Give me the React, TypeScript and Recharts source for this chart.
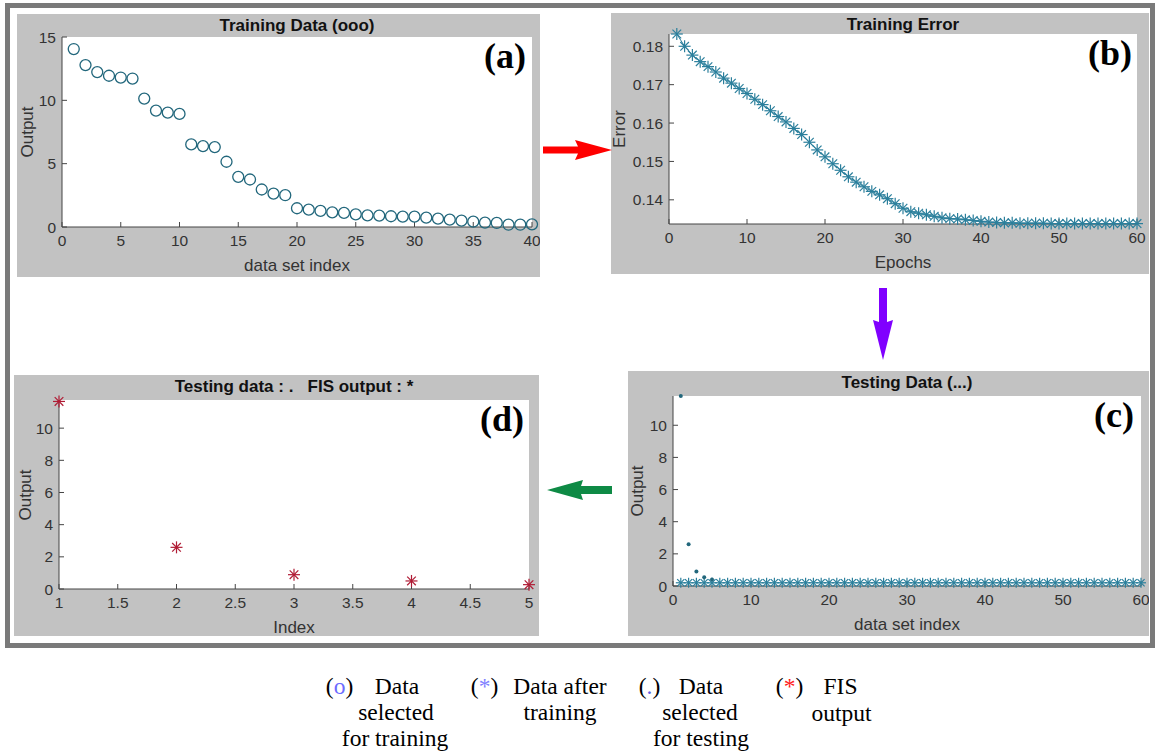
import React from "react";
import { ScatterChart, Scatter, XAxis, YAxis, CartesianGrid } from "recharts";

// (a) training data, index 1..40
const trainingOutput = [
  14.05, 12.78, 12.23, 11.94, 11.8, 11.72, 10.14, 9.19, 9.03, 8.93,
  6.52, 6.39, 6.31, 5.15, 3.96, 3.75, 2.96, 2.64, 2.51, 1.48,
  1.37, 1.27, 1.16, 1.11, 1.0, 0.92, 0.9, 0.85, 0.82, 0.82,
  0.74, 0.66, 0.58, 0.5, 0.42, 0.34, 0.32, 0.18, 0.18, 0.21,
];

// (b) training error per epoch, 1..60
const trainingError = [
  0.1832, 0.18, 0.1777, 0.176, 0.1747, 0.1733, 0.1717, 0.1704, 0.169, 0.1677,
  0.1662, 0.1648, 0.1632, 0.1617, 0.1603, 0.1586, 0.157, 0.155, 0.153, 0.1512,
  0.1494, 0.1477, 0.146, 0.1446, 0.1434, 0.1422, 0.1413, 0.1403, 0.139, 0.1378,
  0.1369, 0.1365, 0.1361, 0.1357, 0.1353, 0.1351, 0.135, 0.1348, 0.1346, 0.1344,
  0.1342, 0.1341, 0.134, 0.134, 0.1339, 0.1339, 0.1339, 0.1339, 0.1338, 0.1338,
  0.1338, 0.1338, 0.1338, 0.1338, 0.1338, 0.1338, 0.1338, 0.1338, 0.1338, 0.1338,
];

// (c) testing data (dots) and data after training (stars)
const testingData = [11.82, 2.59, 0.9, 0.55, 0.4];
const afterTraining = [
  0.2, 0.2, 0.2, 0.2, 0.2, 0.2, 0.2, 0.2, 0.2, 0.2,
  0.2, 0.2, 0.2, 0.2, 0.2, 0.2, 0.2, 0.2, 0.2, 0.2,
  0.2, 0.2, 0.2, 0.2, 0.2, 0.2, 0.2, 0.2, 0.2, 0.2,
  0.2, 0.2, 0.2, 0.2, 0.2, 0.2, 0.2, 0.2, 0.2, 0.2,
  0.2, 0.2, 0.2, 0.2, 0.2, 0.2, 0.2, 0.2, 0.2, 0.2,
  0.2, 0.2, 0.2, 0.2, 0.2, 0.2, 0.2, 0.2, 0.2, 0.2,
];

// (d) FIS output on the test points
const fisOutput = [11.66, 2.59, 0.89, 0.5, 0.27];

const ticksA_x = [0, 5, 10, 15, 20, 25, 30, 35, 40];
const ticksA_y = [0, 5, 10, 15];
const ticksB_x = [0, 10, 20, 30, 40, 50, 60];
const ticksB_y = [0.14, 0.15, 0.16, 0.17, 0.18];
const ticksC_x = [0, 10, 20, 30, 40, 50, 60];
const ticksC_y = [0, 2, 4, 6, 8, 10];
const ticksD_x = [1, 1.5, 2, 2.5, 3, 3.5, 4, 4.5, 5];
const ticksD_y = [0, 2, 4, 6, 8, 10];

const toPoints = (vals: number[]) => vals.map((y, i) => ({ x: i + 1, y }));

const SANS = '"Liberation Sans", Arial, sans-serif';
const SERIF = '"Liberation Serif", "Times New Roman", serif';
const PANEL_BG = "#c2c2c2";
const AXIS = "#454545";
const TEAL = "#22677c";
const BLUE = "#2b7f9c";
const RED = "#b01c35";

const circleShape = (p: any) => (
  <circle cx={p.cx} cy={p.cy} r={5.5} fill="none" stroke={TEAL} strokeWidth={1.3} />
);

const dotShape = (p: any) => <circle cx={p.cx} cy={p.cy} r={2} fill={TEAL} />;

const starShape = (color: string, r: number) => (p: any) => {
  const { cx, cy } = p;
  const d = r * 0.72;
  return (
    <g stroke={color} strokeWidth={1.2}>
      <line x1={cx - r} y1={cy} x2={cx + r} y2={cy} />
      <line x1={cx} y1={cy - r} x2={cx} y2={cy + r} />
      <line x1={cx - d} y1={cy - d} x2={cx + d} y2={cy + d} />
      <line x1={cx - d} y1={cy + d} x2={cx + d} y2={cy - d} />
    </g>
  );
};

type Rect = { left: number; top: number; right: number; bottom: number };

function Panel(props: {
  box: Rect;
  plot: Rect;
  title: string;
  xLabel: string;
  yLabel: string;
  yLabelX: number;
  tag: string;
  xDomain: [number, number];
  xTicks: number[];
  yDomain: [number, number];
  yTicks: number[];
  yFormat?: (v: number) => string;
  children: React.ReactNode;
}) {
  const { box, plot } = props;
  const w = box.right - box.left;
  const h = box.bottom - box.top;
  const cx = (plot.left + plot.right) / 2;
  const tick = { fill: "#333", fontSize: 15.5, fontFamily: SANS };
  const center: React.CSSProperties = {
    position: "absolute",
    transform: "translate(-50%, -50%)",
    whiteSpace: "pre",
    lineHeight: 1,
  };
  return (
    <>
      <div style={{ position: "absolute", left: box.left, top: box.top, background: PANEL_BG }}>
        <ScatterChart
          width={w}
          height={h}
          margin={{ top: plot.top - box.top, right: box.right - plot.right, left: 0, bottom: 0 }}
        >
          <CartesianGrid fill="#fff" horizontal={false} vertical={false} />
          <XAxis
            type="number"
            dataKey="x"
            domain={props.xDomain}
            ticks={props.xTicks}
            interval={0}
            height={box.bottom - plot.bottom}
            tick={tick}
            tickSize={-5}
            tickMargin={13}
            axisLine={{ stroke: AXIS }}
            tickLine={{ stroke: AXIS }}
          />
          <YAxis
            type="number"
            dataKey="y"
            domain={props.yDomain}
            ticks={props.yTicks}
            interval={0}
            width={plot.left - box.left}
            tick={tick}
            tickSize={-5}
            tickMargin={11}
            tickFormatter={props.yFormat}
            axisLine={{ stroke: AXIS }}
            tickLine={{ stroke: AXIS }}
          />
          {props.children}
        </ScatterChart>
      </div>
      <div style={{ ...center, left: cx, top: box.top + 11, fontFamily: SANS, fontWeight: "bold", fontSize: 17, color: "#111" }}>
        {props.title}
      </div>
      <div style={{ ...center, left: cx, top: plot.bottom + 38, fontFamily: SANS, fontSize: 17, color: "#333" }}>
        {props.xLabel}
      </div>
      <div
        style={{
          ...center,
          left: props.yLabelX,
          top: (plot.top + plot.bottom) / 2,
          transform: "translate(-50%, -50%) rotate(-90deg)",
          fontFamily: SANS,
          fontSize: 17,
          color: "#333",
        }}
      >
        {props.yLabel}
      </div>
      <div style={{ ...center, left: plot.right - 27, top: plot.top + 19, fontFamily: SERIF, fontWeight: "bold", fontSize: 36, color: "#000" }}>
        {props.tag}
      </div>
    </>
  );
}

export default function App() {
  const legendText = { fontFamily: SERIF, fontSize: 23.5, fill: "#000", textAnchor: "middle" as const };
  return (
    <div style={{ position: "absolute", left: 0, top: 0, width: 1155, height: 756, background: "#fff", overflow: "hidden" }}>
      <div
        style={{
          position: "absolute",
          left: 5,
          top: 3,
          width: 1150,
          height: 645,
          border: "5px solid #7a7a7a",
          boxSizing: "border-box",
        }}
      />

      <Panel
        box={{ left: 17, top: 14, right: 540, bottom: 277 }}
        plot={{ left: 62, top: 37, right: 532, bottom: 227 }}
        title="Training Data (ooo)"
        xLabel="data set index"
        yLabel="Output"
        yLabelX={27}
        tag="(a)"
        xDomain={[0, 40]}
        xTicks={ticksA_x}
        yDomain={[0, 15]}
        yTicks={ticksA_y}
      >
        <Scatter data={toPoints(trainingOutput)} shape={circleShape} isAnimationActive={false} />
      </Panel>

      <Panel
        box={{ left: 611, top: 13, right: 1149, bottom: 274 }}
        plot={{ left: 669, top: 34, right: 1137, bottom: 224 }}
        title="Training Error"
        xLabel="Epochs"
        yLabel="Error"
        yLabelX={619}
        tag="(b)"
        xDomain={[0, 60]}
        xTicks={ticksB_x}
        yDomain={[0.1337, 0.1832]}
        yTicks={ticksB_y}
        yFormat={(v) => v.toFixed(2)}
      >
        <Scatter
          data={toPoints(trainingError)}
          shape={starShape(BLUE, 6)}
          line={{ stroke: BLUE, strokeWidth: 1 }}
          isAnimationActive={false}
        />
      </Panel>

      <Panel
        box={{ left: 628, top: 371, right: 1149, bottom: 636 }}
        plot={{ left: 673, top: 396, right: 1141, bottom: 586 }}
        title="Testing Data (...)"
        xLabel="data set index"
        yLabel="Output"
        yLabelX={637}
        tag="(c)"
        xDomain={[0, 60]}
        xTicks={ticksC_x}
        yDomain={[0, 11.82]}
        yTicks={ticksC_y}
      >
        <Scatter data={toPoints(afterTraining)} shape={starShape(BLUE, 5)} isAnimationActive={false} />
        <Scatter data={toPoints(testingData)} shape={dotShape} isAnimationActive={false} />
      </Panel>

      <Panel
        box={{ left: 14, top: 375, right: 539, bottom: 636 }}
        plot={{ left: 59, top: 400, right: 529, bottom: 589 }}
        title="Testing data : .   FIS output : *"
        xLabel="Index"
        yLabel="Output"
        yLabelX={25}
        tag="(d)"
        xDomain={[1, 5]}
        xTicks={ticksD_x}
        yDomain={[0, 11.75]}
        yTicks={ticksD_y}
      >
        <Scatter data={toPoints(fisOutput)} shape={starShape(RED, 6)} isAnimationActive={false} />
      </Panel>

      <svg width={1155} height={756} style={{ position: "absolute", left: 0, top: 0, pointerEvents: "none" }}>
        {/* arrows between panels */}
        <polygon points="543,146.5 578,146.5 575,140 612,150 575,160 578,153.5 543,153.5" fill="#ff0000" />
        <polygon points="879,288 887,288 887,322 893,320 883,360 873,320 879,322" fill="#8000ff" />
        <polygon points="612,486 581,486 583,480 547,490 583,500 581,494 612,494" fill="#0e8a45" />

        {/* legend */}
        <text x={339.5} y={694} {...legendText}>
          (<tspan fill="#6b6bff">o</tspan>)
        </text>
        <text x={397} y={694} {...legendText}>Data</text>
        <text x={396} y={720} {...legendText}>selected</text>
        <text x={395} y={746} {...legendText}>for training</text>

        <text x={484.5} y={694} {...legendText}>
          (<tspan fill="#8080ff">*</tspan>)
        </text>
        <text x={560} y={694} {...legendText}>Data after</text>
        <text x={560} y={720} {...legendText}>training</text>

        <text x={649.5} y={694} {...legendText}>
          (<tspan fill="#5c5ce6">.</tspan>)
        </text>
        <text x={701} y={694} {...legendText}>Data</text>
        <text x={700} y={720} {...legendText}>selected</text>
        <text x={701} y={746} {...legendText}>for testing</text>

        <text x={789.5} y={694} {...legendText}>
          (<tspan fill="#ff1a1a">*</tspan>)
        </text>
        <text x={840.5} y={694} {...legendText}>FIS</text>
        <text x={841.5} y={721} {...legendText}>output</text>
      </svg>
    </div>
  );
}
